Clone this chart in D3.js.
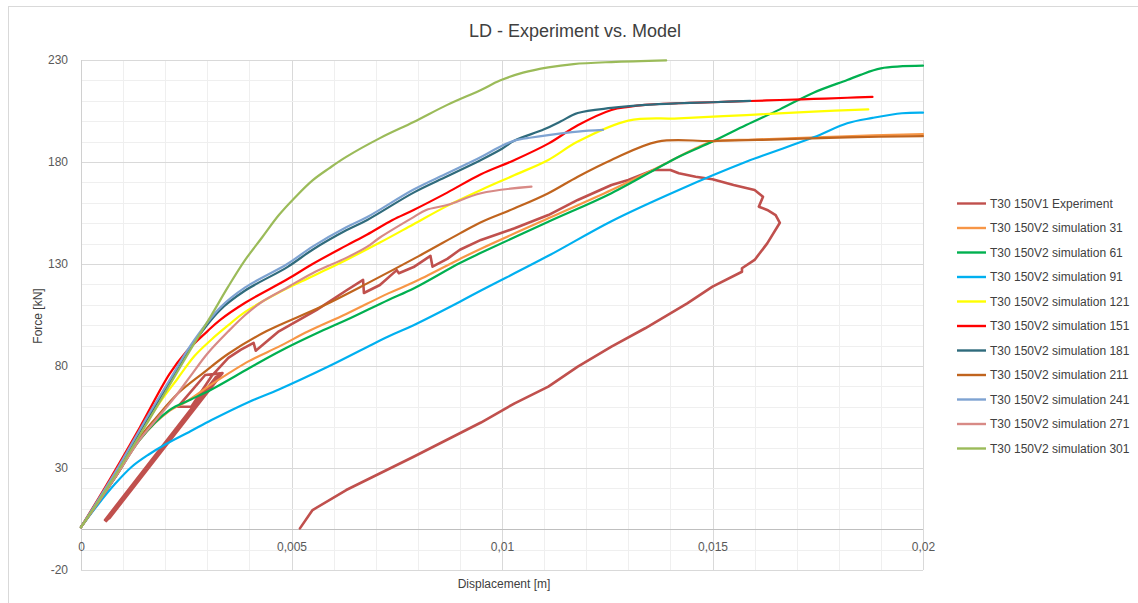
<!DOCTYPE html>
<html><head><meta charset="utf-8">
<script src="https://cdn.jsdelivr.net/npm/d3@7"></script>
<style>
html,body{margin:0;padding:0;background:#fff;}
svg text{font-family:"Liberation Sans",Arial,sans-serif;}
</style></head>
<body>
<script>
// ---------- DATA ----------
const title = "LD - Experiment vs. Model";
const xLabel = "Displacement [m]";
const yLabel = "Force [kN]";
const xTicks = [0, 0.005, 0.01, 0.015, 0.02];
const yTicks = [-20, 30, 80, 130, 180, 230];
const seriesNames = ["T30 150V1 Experiment","T30 150V2 simulation 31","T30 150V2 simulation 61","T30 150V2 simulation 91","T30 150V2 simulation 121","T30 150V2 simulation 151","T30 150V2 simulation 181","T30 150V2 simulation 211","T30 150V2 simulation 241","T30 150V2 simulation 271","T30 150V2 simulation 301"];
const seriesColors = ["#C0504D","#F79646","#00B050","#00B0F0","#FFFF00","#FF0000","#2F6B7C","#C0641E","#7EA3D2","#D88A86","#9BBB59"];

const experiment = [[0.00057,4.5],[0.0032,74.5],[0.0006,4],[0.00324,75],[0.00062,4.5],[0.00328,75.5],[0.00065,5],[0.00332,76],[0.00068,5.5],[0.00336,76.5],[0.00295,75.6],[0.0023,60],[0.00262,60],[0.0031,75],[0.0035,84],[0.0038,88],[0.0041,91.3],[0.00415,87.5],[0.0047,97],[0.0056,107.5],[0.0063,117],[0.0067,122.2],[0.00672,115.8],[0.0071,119.7],[0.0075,127],[0.00755,125.5],[0.0079,128.5],[0.0083,134],[0.00835,128.7],[0.0087,132.5],[0.009,137],[0.0095,141.8],[0.0103,147.5],[0.0111,154],[0.0118,161.4],[0.0126,168.7],[0.013,171.2],[0.0136,176.1],[0.014,176.1],[0.0142,174.5],[0.0146,172.8],[0.015,171.5],[0.0155,168.7],[0.016,166.3],[0.0162,163],[0.0161,158.1],[0.0163,156.5],[0.0165,154],[0.0166,150.2],[0.0163,140.1],[0.016,132],[0.0157,127.9],[0.0157,126.2],[0.015,118.9],[0.0144,110.7],[0.0134,98.5],[0.0126,89.5],[0.0118,79.7],[0.0111,69.9],[0.0103,61.7],[0.0095,52.3],[0.0079,35.5],[0.0063,19.2],[0.0055,9.4],[0.0052,0.4]];
const sim31 = [[0,1],[0.0008,25],[0.0014,44],[0.0021,58],[0.0025,62.5],[0.0031,71],[0.004,82.5],[0.0047,89.5],[0.0054,97],[0.0063,105.5],[0.0073,115.6],[0.0079,121],[0.009,132.5],[0.0095,137.5],[0.0111,152.4],[0.0126,166.3],[0.0139,179.4],[0.0146,186.7],[0.015,190],[0.016,191],[0.018,192.5],[0.02,193.7]];
const sim61 = [[0,1],[0.0008,25],[0.0014,44],[0.0021,58.4],[0.0026,63.5],[0.0031,68.5],[0.004,79],[0.0047,87],[0.0057,97],[0.0063,102.5],[0.0073,112.4],[0.0079,118],[0.009,130.5],[0.0095,135.5],[0.0111,150.7],[0.0126,164.7],[0.0142,182.6],[0.015,190],[0.0158,198.1],[0.0166,205.8],[0.0174,214],[0.0182,220.2],[0.0185,222.6],[0.019,225.9],[0.02,227.2]];
const sim91 = [[0,1],[0.0004,12],[0.0008,22],[0.0012,30.5],[0.0016,36.5],[0.002,41.5],[0.0026,48],[0.0031,53.5],[0.004,62.5],[0.0047,68.5],[0.0059,80],[0.0073,94.5],[0.0079,100],[0.009,111.5],[0.0095,117],[0.0111,134],[0.0126,151],[0.0142,166.3],[0.0158,180.1],[0.0174,192.1],[0.0182,199],[0.0188,201.6],[0.0195,203.9],[0.02,204.2]];
const sim121 = [[0,1],[0.0008,26],[0.0014,47],[0.0018,60],[0.0023,74],[0.0027,85],[0.0031,93],[0.0035,100],[0.0039,106.5],[0.0047,116],[0.0055,124],[0.0063,132],[0.0071,140.5],[0.0079,149.5],[0.0087,158.5],[0.0095,166.3],[0.0103,173.6],[0.0111,181],[0.0118,190],[0.013,200.3],[0.0142,201.4],[0.0158,203],[0.0174,204.7],[0.0187,205.8]];
const sim151 = [[0,1],[0.0007,25],[0.0014,50],[0.0021,76],[0.0025,87],[0.003,97],[0.0033,102.5],[0.0039,111],[0.0049,122.5],[0.0055,130],[0.0063,139],[0.0068,144.5],[0.0074,151.6],[0.0079,156.5],[0.0087,165],[0.0095,174],[0.0103,181],[0.0111,189],[0.0118,198],[0.0126,205.5],[0.013,207],[0.0134,208],[0.0142,208.8],[0.015,209.3],[0.0159,209.9],[0.0166,210.4],[0.0174,210.9],[0.0182,211.5],[0.0188,211.9]];
const sim181 = [[0,1],[0.0008,27],[0.0016,55],[0.0021,72],[0.0026,89],[0.0033,107.4],[0.0039,117],[0.0049,128.5],[0.0055,137],[0.0063,146.5],[0.0068,151.6],[0.0079,165],[0.0087,173],[0.0095,181],[0.01,186.5],[0.0103,190.5],[0.011,196],[0.0114,200],[0.0118,204],[0.0126,206.5],[0.0134,208],[0.0142,208.8],[0.015,209.3],[0.0159,210]];
const sim211 = [[0,1],[0.0008,25],[0.0014,45],[0.0018,55],[0.0023,66.5],[0.0029,76.5],[0.0035,86],[0.0044,97],[0.0057,109],[0.0068,120.5],[0.008,133.6],[0.009,145],[0.0095,150.5],[0.0103,157.3],[0.0111,164.7],[0.0118,172.8],[0.0126,181],[0.0137,190],[0.015,190.3],[0.0166,191.1],[0.0182,192.1],[0.02,192.7]];
const sim241 = [[0,1],[0.0008,27.5],[0.0016,56],[0.0021,73],[0.0026,90],[0.0033,108.5],[0.0039,118.5],[0.0049,130],[0.0055,138.5],[0.0063,148],[0.0068,153],[0.0079,166.5],[0.0087,174.5],[0.0095,182.5],[0.01,188],[0.0103,190.5],[0.0107,192],[0.0111,193.2],[0.0118,194.9],[0.0124,195.7]];
const sim271 = [[0,1],[0.0008,25],[0.0014,44],[0.0018,54],[0.0022,64],[0.0026,75],[0.003,86],[0.0035,97],[0.0039,105],[0.0043,111.5],[0.0049,118.5],[0.0055,125.5],[0.0063,133],[0.0068,138.5],[0.0071,143],[0.0079,153],[0.0082,156.5],[0.0087,158.9],[0.0095,164.7],[0.0107,167.9]];
const sim301 = [[0,1],[0.0008,26],[0.0016,53],[0.0022,74],[0.0026,88],[0.0031,105],[0.0035,119],[0.0039,132],[0.0043,143],[0.0047,154],[0.0051,163],[0.0055,171],[0.0059,177],[0.0063,182.5],[0.0071,191.7],[0.0079,199.6],[0.0087,208],[0.0095,215.3],[0.00995,219.9],[0.0105,223.8],[0.0111,226.4],[0.0117,228],[0.0126,229],[0.0139,229.8]];
const seriesData = [experiment, sim31, sim61, sim91, sim121, sim151, sim181, sim211, sim241, sim271, sim301];

// ---------- CHART ----------
const W = 1138, H = 603;
const svg = d3.select("body").append("svg").attr("width", W).attr("height", H);
svg.append("rect").attr("x", 8.5).attr("y", 6.5).attr("width", W + 20).attr("height", H + 20)
  .attr("fill", "#fff").attr("stroke", "#d9d9d9");

const x = d3.scaleLinear().domain([0, 0.02]).range([81, 923]);
const y = d3.scaleLinear().domain([-20, 230]).range([570, 60]);

// grid
const g = svg.append("g");
const minorX = d3.range(0, 21).map(i => i * 0.001);
const minorY = d3.range(-20, 231, 10);
g.selectAll(".mx").data(minorX).join("line")
  .attr("x1", d => Math.round(x(d)) + 0.5).attr("x2", d => Math.round(x(d)) + 0.5)
  .attr("y1", y(230)).attr("y2", y(-20))
  .attr("stroke", d => (Math.round(d * 1000) % 5 === 0) ? "#d9d9d9" : "#efefef").attr("stroke-width", 1);
g.selectAll(".my").data(minorY).join("line")
  .attr("y1", d => Math.round(y(d)) + 0.5).attr("y2", d => Math.round(y(d)) + 0.5)
  .attr("x1", x(0)).attr("x2", x(0.02))
  .attr("stroke", d => ((d + 20) % 50 === 0) ? "#d9d9d9" : "#efefef").attr("stroke-width", 1);
g.append("line").attr("x1", x(0)).attr("x2", x(0.02))
  .attr("y1", Math.round(y(0)) + 0.5).attr("y2", Math.round(y(0)) + 0.5)
  .attr("stroke", "#bfbfbf").attr("stroke-width", 1);
g.append("line").attr("x1", Math.round(x(0)) + 0.5).attr("x2", Math.round(x(0)) + 0.5)
  .attr("y1", y(230)).attr("y2", y(-20)).attr("stroke", "#d0d0d0");

// axes
const fmt = d => String(d).replace(".", ",");
const ax = svg.append("g").attr("transform", `translate(0,${y(0)})`)
  .call(d3.axisBottom(x).tickValues(xTicks).tickFormat(fmt).tickSize(0).tickPadding(13));
const ay = svg.append("g").attr("transform", `translate(${x(0)},0)`)
  .call(d3.axisLeft(y).tickValues(yTicks).tickFormat(d => String(d)).tickSize(0).tickPadding(13));
[ax, ay].forEach(a => {
  a.select(".domain").remove();
  a.selectAll("text").attr("fill", "#595959").style("font-size", "12px");
});

// lines
const lineExp = d3.line().x(d => x(d[0])).y(d => y(d[1]));
const lineSim = d3.line().x(d => x(d[0])).y(d => y(d[1])).curve(d3.curveCatmullRom.alpha(0.5));
svg.append("g").selectAll("path").data(seriesData).join("path")
  .attr("d", (d, i) => i === 0 ? lineExp(d) : lineSim(d)).attr("fill", "none")
  .attr("stroke", (d, i) => seriesColors[i])
  .attr("stroke-width", (d, i) => i === 0 ? 2.6 : 2.2)
  .attr("stroke-linejoin", "round").attr("stroke-linecap", "round");

// title & axis labels
svg.append("text").attr("x", 575).attr("y", 37).attr("text-anchor", "middle")
  .attr("fill", "#404040").style("font-size", "18px").text(title);
svg.append("text").attr("x", 504).attr("y", 588).attr("text-anchor", "middle")
  .attr("fill", "#404040").style("font-size", "12px").text(xLabel);
svg.append("text").attr("transform", "translate(42,316) rotate(-90)").attr("text-anchor", "middle")
  .attr("fill", "#404040").style("font-size", "12px").text(yLabel);

// legend
const lg = svg.append("g");
seriesNames.forEach((n, i) => {
  const yy = 203.5 + i * 24.5;
  lg.append("line").attr("x1", 957).attr("x2", 986).attr("y1", yy).attr("y2", yy)
    .attr("stroke", seriesColors[i]).attr("stroke-width", 2.4);
  lg.append("text").attr("x", 990).attr("y", yy + 4).attr("fill", "#404040")
    .style("font-size", "12px").text(n);
});
</script>
</body></html>
